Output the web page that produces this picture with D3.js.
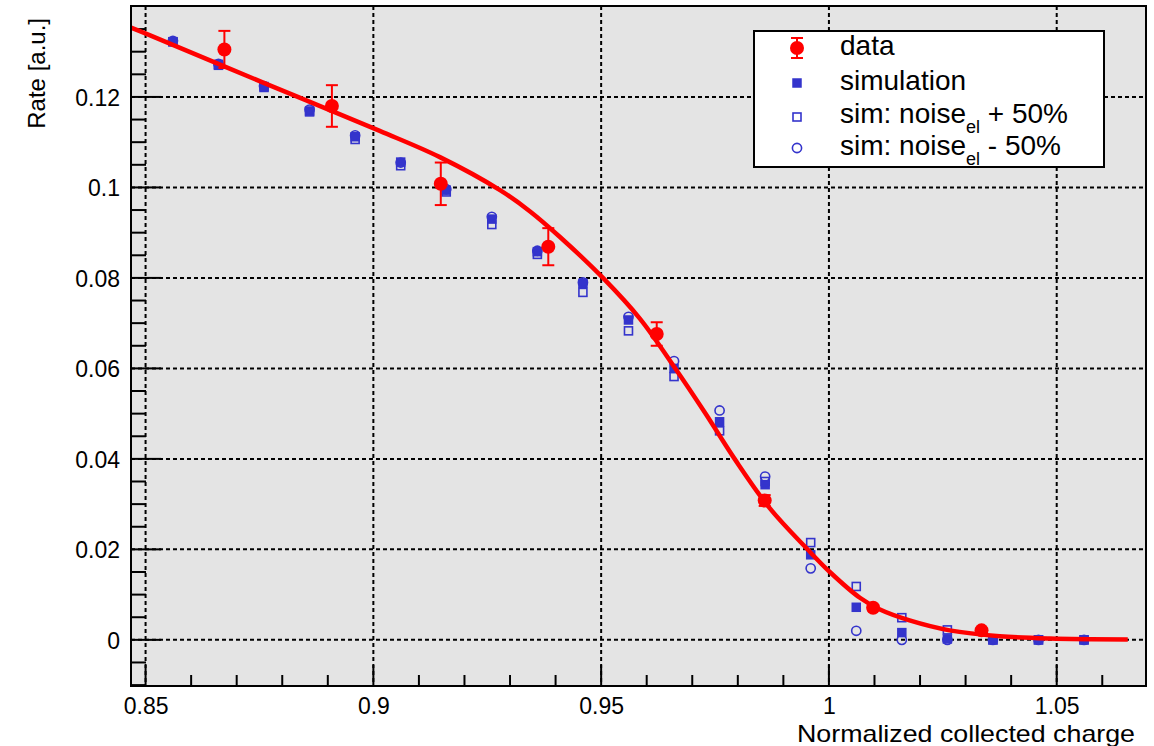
<!DOCTYPE html>
<html>
<head>
<meta charset="utf-8">
<script src="https://cdn.jsdelivr.net/npm/d3@7"></script>
<style>
  html, body { margin: 0; padding: 0; background: #ffffff; }
  svg { display: block; font-family: "Liberation Sans", Arial, Helvetica, sans-serif; }
</style>
</head>
<body>
<svg id="chart" width="1154" height="746"></svg>
<script>
// Measured rate (red points with error bars)
const dataX   = [0.8673, 0.8909, 0.9148, 0.9384, 0.9622, 0.9859, 1.0097, 1.0335];
const dataY   = [0.1305, 0.1180, 0.1008, 0.0869, 0.0676, 0.0308, 0.0071, 0.0021];
const dataErr = [0.0041, 0.0046, 0.0047, 0.0041, 0.0026, 0.0012, 0.0006, 0.0004];

// Simulation bins
const simX = [0.856, 0.866, 0.876, 0.886, 0.896, 0.906, 0.916, 0.926, 0.936, 0.946, 0.956,
              0.966, 0.976, 0.986, 0.996, 1.006, 1.016, 1.026, 1.036, 1.046, 1.056];
const simNominal = [0.1322, 0.1272, 0.1223, 0.1169, 0.1112, 0.1056, 0.0994, 0.0930, 0.0858, 0.0788, 0.0707,
                    0.0600, 0.0482, 0.0343, 0.0188, 0.0072, 0.0016, 0.0002, 0.0000, 0.0000, 0.0000];
const simNoisePlus = [0.1322, 0.1270, 0.1221, 0.1167, 0.1106, 0.1048, 0.0990, 0.0918, 0.0852, 0.0768, 0.0683,
                      0.0582, 0.0462, 0.0350, 0.0215, 0.0118, 0.0049, 0.0022, 0.0000, 0.0000, 0.0000];
const simNoiseMinus = [0.1324, 0.1273, 0.1224, 0.1172, 0.1115, 0.1055, 0.0996, 0.0935, 0.0860, 0.0790, 0.0714,
                       0.0616, 0.0507, 0.0361, 0.0158, 0.0020, 0.0000, 0.0000, 0.0000, 0.0000, 0.0000];

// Fitted curve, sampled along its length
const fitX = [0.8468, 0.8510, 0.8762, 0.9014, 0.9146, 0.9278, 0.9344, 0.9409, 0.9504, 0.9585, 0.9662, 0.9728,
              0.9793, 0.9870, 0.9954, 1.0002, 1.0068, 1.0112, 1.0177, 1.0265, 1.0375, 1.0485, 1.0656];
const fitY = [0.1353, 0.1336, 0.1230, 0.1125, 0.1067, 0.0994, 0.0947, 0.0891, 0.0800, 0.0710, 0.0601, 0.0502,
              0.0400, 0.0291, 0.0199, 0.0150, 0.0093, 0.0067, 0.0043, 0.0021, 0.0008, 0.0003, 0.0001];

// Axes
const xMajorTicks = [0.85, 0.9, 0.95, 1, 1.05];
const xTickLabels = ["0.85", "0.9", "0.95", "1", "1.05"];
const yMajorTicks = [0, 0.02, 0.04, 0.06, 0.08, 0.1, 0.12];
const yTickLabels = ["0", "0.02", "0.04", "0.06", "0.08", "0.1", "0.12"];
const xTitle = "Normalized collected charge";
const yTitle = "Rate [a.u.]";

const xDomain = [0.8468, 1.0696];
const yDomain = [-0.0102, 0.1401];

const frame = { left: 131, right: 1146, top: 6, bottom: 686 };
const RED = "#ff0000";
const BLUE = "#3434cc";

const svg = d3.select("#chart");
const x = d3.scaleLinear().domain(xDomain).range([frame.left, frame.right]);
const y = d3.scaleLinear().domain(yDomain).range([frame.bottom, frame.top]);

// Frame background
svg.append("rect")
  .attr("x", frame.left).attr("y", frame.top)
  .attr("width", frame.right - frame.left).attr("height", frame.bottom - frame.top)
  .attr("fill", "#e4e4e4");

// Dotted grid at the major ticks
const grid = svg.append("g").attr("stroke", "#000").attr("stroke-width", 2)
  .attr("stroke-dasharray", "4,3");
grid.selectAll("line.gx").data(xMajorTicks).join("line")
  .attr("x1", d => x(d)).attr("x2", d => x(d))
  .attr("y1", frame.top).attr("y2", frame.bottom);
grid.selectAll("line.gy").data(yMajorTicks).join("line")
  .attr("y1", d => y(d)).attr("y2", d => y(d))
  .attr("x1", frame.left).attr("x2", frame.right);

// Axes with inward ticks
const xMinor = d3.range(86, 107).map(v => v / 100).filter(v => Math.abs(v * 20 - Math.round(v * 20)) > 1e-6);
const yMinor = d3.range(-2, 29).map(v => v * 0.005).filter(v => Math.abs(v * 50 - Math.round(v * 50)) > 1e-6);

const xAxis = d3.axisBottom(x).tickValues(xMajorTicks).tickSize(0)
  .tickFormat((d, i) => xTickLabels[i]).tickPadding(0);
const gx = svg.append("g").attr("transform", `translate(0,${frame.bottom})`).call(xAxis);
gx.select(".domain").remove();
gx.selectAll("text").attr("font-size", 23).attr("fill", "#000")
  .attr("font-family", "'Liberation Sans', Arial, sans-serif")
  .attr("dy", "0").attr("y", 28);

const yAxis = d3.axisLeft(y).tickValues(yMajorTicks).tickSize(0)
  .tickFormat((d, i) => yTickLabels[i]).tickPadding(0);
const gy = svg.append("g").attr("transform", `translate(${frame.left},0)`).call(yAxis);
gy.select(".domain").remove();
gy.selectAll("text").attr("font-size", 23).attr("fill", "#000")
  .attr("font-family", "'Liberation Sans', Arial, sans-serif")
  .attr("x", -11).attr("dy", "0.36em");

const ticks = svg.append("g").attr("stroke", "#000").attr("stroke-width", 2);
ticks.selectAll("line.xmaj").data(xMajorTicks).join("line")
  .attr("x1", d => x(d)).attr("x2", d => x(d))
  .attr("y1", frame.bottom).attr("y2", frame.bottom - 21);
ticks.selectAll("line.xmin").data(xMinor).join("line")
  .attr("x1", d => x(d)).attr("x2", d => x(d))
  .attr("y1", frame.bottom).attr("y2", frame.bottom - 11);
ticks.selectAll("line.ymaj").data(yMajorTicks).join("line")
  .attr("y1", d => y(d)).attr("y2", d => y(d))
  .attr("x1", frame.left).attr("x2", frame.left + 30);
ticks.selectAll("line.ymin").data(yMinor).join("line")
  .attr("y1", d => y(d)).attr("y2", d => y(d))
  .attr("x1", frame.left).attr("x2", frame.left + 15);

// Simulation markers
const marks = svg.append("g");
const sz = 9.5;
marks.selectAll("rect.nom").data(simX).join("rect")
  .attr("x", (d, i) => x(d) - sz / 2).attr("y", (d, i) => y(simNominal[i]) - sz / 2)
  .attr("width", sz).attr("height", sz).attr("fill", BLUE);
marks.selectAll("rect.plus").data(simX).join("rect")
  .attr("x", (d, i) => x(d) - (sz - 1.5) / 2).attr("y", (d, i) => y(simNoisePlus[i]) - (sz - 1.5) / 2)
  .attr("width", sz - 1.5).attr("height", sz - 1.5)
  .attr("fill", "none").attr("stroke", BLUE).attr("stroke-width", 1.6);
marks.selectAll("circle.minus").data(simX).join("circle")
  .attr("cx", d => x(d)).attr("cy", (d, i) => y(simNoiseMinus[i]))
  .attr("r", 4.6).attr("fill", "none").attr("stroke", BLUE).attr("stroke-width", 1.6);

// Measured points with error bars
const pts = svg.append("g");
pts.selectAll("line.err").data(dataX).join("line")
  .attr("x1", d => x(d)).attr("x2", d => x(d))
  .attr("y1", (d, i) => y(dataY[i] + dataErr[i])).attr("y2", (d, i) => y(dataY[i] - dataErr[i]))
  .attr("stroke", RED).attr("stroke-width", 2);
pts.selectAll("line.capT").data(dataX).join("line")
  .attr("x1", d => x(d) - 6).attr("x2", d => x(d) + 6)
  .attr("y1", (d, i) => y(dataY[i] + dataErr[i])).attr("y2", (d, i) => y(dataY[i] + dataErr[i]))
  .attr("stroke", RED).attr("stroke-width", 2);
pts.selectAll("line.capB").data(dataX).join("line")
  .attr("x1", d => x(d) - 6).attr("x2", d => x(d) + 6)
  .attr("y1", (d, i) => y(dataY[i] - dataErr[i])).attr("y2", (d, i) => y(dataY[i] - dataErr[i]))
  .attr("stroke", RED).attr("stroke-width", 2);
pts.selectAll("circle.pt").data(dataX).join("circle")
  .attr("cx", d => x(d)).attr("cy", (d, i) => y(dataY[i]))
  .attr("r", 7).attr("fill", RED);

// Fit curve
const fitLine = d3.line().x(d => x(d[0])).y(d => y(d[1])).curve(d3.curveCatmullRom.alpha(0.5));
svg.append("path")
  .datum(fitX.map((v, i) => [v, fitY[i]]))
  .attr("d", fitLine)
  .attr("fill", "none").attr("stroke", RED).attr("stroke-width", 4.5)
  .attr("stroke-linejoin", "round");

// Frame outline
svg.append("rect")
  .attr("x", frame.left).attr("y", frame.top)
  .attr("width", frame.right - frame.left).attr("height", frame.bottom - frame.top)
  .attr("fill", "none").attr("stroke", "#000").attr("stroke-width", 2);

// Axis titles
svg.append("text")
  .attr("x", 1135).attr("y", 742)
  .attr("text-anchor", "end").attr("font-size", 24)
  .attr("textLength", 338).attr("lengthAdjust", "spacingAndGlyphs")
  .text(xTitle);
svg.append("text")
  .attr("transform", "translate(45,18) rotate(-90)")
  .attr("text-anchor", "end").attr("font-size", 24)
  .text(yTitle);

// Legend
const legend = svg.append("g");
legend.append("rect")
  .attr("x", 754).attr("y", 31).attr("width", 350).attr("height", 136)
  .attr("fill", "#fff").attr("stroke", "#000").attr("stroke-width", 2);
const lx = 797, tx = 840;
const markerRows = [48, 83, 117, 148];
const textBase = [55, 90, 123, 155];
// data
legend.append("line").attr("x1", lx).attr("x2", lx).attr("y1", markerRows[0] - 10).attr("y2", markerRows[0] + 10)
  .attr("stroke", RED).attr("stroke-width", 2);
legend.append("line").attr("x1", lx - 6).attr("x2", lx + 6).attr("y1", markerRows[0] - 10).attr("y2", markerRows[0] - 10)
  .attr("stroke", RED).attr("stroke-width", 2);
legend.append("line").attr("x1", lx - 6).attr("x2", lx + 6).attr("y1", markerRows[0] + 10).attr("y2", markerRows[0] + 10)
  .attr("stroke", RED).attr("stroke-width", 2);
legend.append("circle").attr("cx", lx).attr("cy", markerRows[0]).attr("r", 7).attr("fill", RED);
// simulation variants
legend.append("rect").attr("x", lx - sz / 2).attr("y", markerRows[1] - sz / 2).attr("width", sz).attr("height", sz)
  .attr("fill", BLUE);
legend.append("rect").attr("x", lx - (sz - 1.5) / 2).attr("y", markerRows[2] - (sz - 1.5) / 2)
  .attr("width", sz - 1.5).attr("height", sz - 1.5)
  .attr("fill", "none").attr("stroke", BLUE).attr("stroke-width", 1.6);
legend.append("circle").attr("cx", lx).attr("cy", markerRows[3]).attr("r", 4.6)
  .attr("fill", "none").attr("stroke", BLUE).attr("stroke-width", 1.6);

const lt = legend.append("g").attr("font-size", 28).attr("fill", "#000");
lt.append("text").attr("x", tx).attr("y", textBase[0]).text("data");
lt.append("text").attr("x", tx).attr("y", textBase[1]).text("simulation");
[["+ 50%", textBase[2]], ["- 50%", textBase[3]]].forEach(([suffix, by]) => {
  const t = lt.append("text").attr("x", tx).attr("y", by);
  t.append("tspan").text("sim: noise");
  t.append("tspan").attr("font-size", 18).attr("dy", 10).text("el");
  t.append("tspan").attr("dy", -10).text(" " + suffix);
});
</script>
</body>
</html>
